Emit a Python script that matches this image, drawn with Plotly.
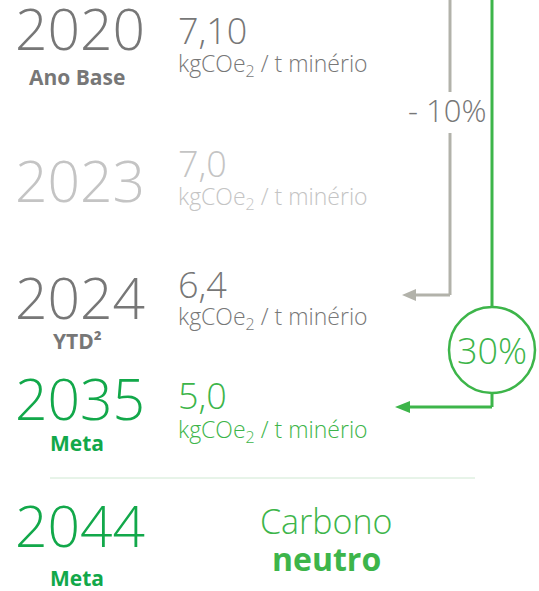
import plotly.graph_objects as go

years = ["2020", "2023", "2024", "2035", "2044"]
year_labels = ["Ano Base", "", "YTD²", "Meta", "Meta"]
values = ["7,10", "7,0", "6,4", "5,0", None]
unit = "kgCOe<sub>2</sub> / t minério"
reduction_labels = ["- 10%", "30%"]
neutral_text = ["Carbono", "neutro"]

GRAY = "#777777"
LIGHT = "#c4c4c4"
GREEN_Y = "#12a84a"
GREEN = "#3db54a"
LINE_GRAY = "#b2b2aa"

year_colors = [GRAY, LIGHT, GRAY, GREEN_Y, GREEN_Y]
val_colors = [GRAY, LIGHT, GRAY, GREEN, GREEN]
unit_colors = [GRAY, LIGHT, GRAY, GREEN, GREEN]
label_colors = [GRAY, LIGHT, GRAY, GREEN_Y, GREEN_Y]

year_y = [28, 180, 297, 398, 525]
label_y = [77, None, 341, 443, 578]
val_y = [30, 163, 284, 395, None]
unit_y = [64, 197, 317, 430, None]

FONT = "Open Sans"

fig = go.Figure()
fig.add_trace(go.Scatter(x=[0, 539], y=[0, 591], mode="markers",
                         marker=dict(opacity=0), hoverinfo="skip", showlegend=False))

ann = []
for i, yr in enumerate(years):
    ann.append(dict(x=80, y=year_y[i], text=yr, showarrow=False, xanchor="center", yanchor="middle",
                    font=dict(family=FONT, size=57, color=year_colors[i], weight=300)))
    if year_labels[i]:
        ann.append(dict(x=77, y=label_y[i], text=year_labels[i], showarrow=False, xanchor="center",
                        yanchor="middle", font=dict(family=FONT, size=21, color=label_colors[i], weight=700)))
    if values[i]:
        ann.append(dict(x=176, y=val_y[i], text=values[i], showarrow=False, xanchor="left", yanchor="middle",
                        font=dict(family=FONT, size=36, color=val_colors[i], weight=300)))
        ann.append(dict(x=176, y=unit_y[i], text=unit, showarrow=False, xanchor="left", yanchor="middle",
                        font=dict(family=FONT, size=23, color=unit_colors[i], weight=300)))

ann.append(dict(x=326, y=521, text=neutral_text[0], showarrow=False, xanchor="center", yanchor="middle",
                font=dict(family=FONT, size=34, color=GREEN, weight=300)))
ann.append(dict(x=326, y=558, text=neutral_text[1], showarrow=False, xanchor="center", yanchor="middle",
                font=dict(family=FONT, size=32, color=GREEN, weight=700)))
ann.append(dict(x=447, y=110, text=reduction_labels[0], showarrow=False, xanchor="center", yanchor="middle",
                font=dict(family=FONT, size=31, color=GRAY, weight=300)))
ann.append(dict(x=492, y=350, text=reduction_labels[1], showarrow=False, xanchor="center", yanchor="middle",
                font=dict(family=FONT, size=36, color=GREEN, weight=300)))

shapes = [
    # gray bracket
    dict(type="line", x0=450, x1=450, y0=0, y1=92, line=dict(color=LINE_GRAY, width=3)),
    dict(type="line", x0=450, x1=450, y0=133, y1=295, line=dict(color=LINE_GRAY, width=3)),
    dict(type="line", x0=450, x1=412, y0=295, y1=295, line=dict(color=LINE_GRAY, width=3)),
    dict(type="path", path="M 402 295 L 416 289 L 416 301 Z", fillcolor=LINE_GRAY, line=dict(width=0)),
    # green bracket
    dict(type="line", x0=492, x1=492, y0=0, y1=307, line=dict(color=GREEN, width=3)),
    dict(type="circle", x0=449, x1=535, y0=307, y1=393, line=dict(color=GREEN, width=2.5)),
    dict(type="line", x0=492, x1=492, y0=393, y1=407, line=dict(color=GREEN, width=3)),
    dict(type="line", x0=492, x1=405, y0=407, y1=407, line=dict(color=GREEN, width=3)),
    dict(type="path", path="M 395 407 L 410 401 L 410 413 Z", fillcolor=GREEN, line=dict(width=0)),
    # separator
    dict(type="line", x0=50, x1=475, y0=478, y1=478, line=dict(color="#cfe8d2", width=1)),
]

fig.update_layout(
    width=539, height=591, margin=dict(l=0, r=0, t=0, b=0),
    paper_bgcolor="white", plot_bgcolor="white",
    xaxis=dict(range=[0, 539], visible=False, fixedrange=True),
    yaxis=dict(range=[591, 0], visible=False, fixedrange=True),
    annotations=ann, shapes=shapes, showlegend=False,
)
fig.write_html("out.html", config={"displayModeBar": False},
               post_script="document.body.style.margin='0';document.body.style.overflow='hidden';")
